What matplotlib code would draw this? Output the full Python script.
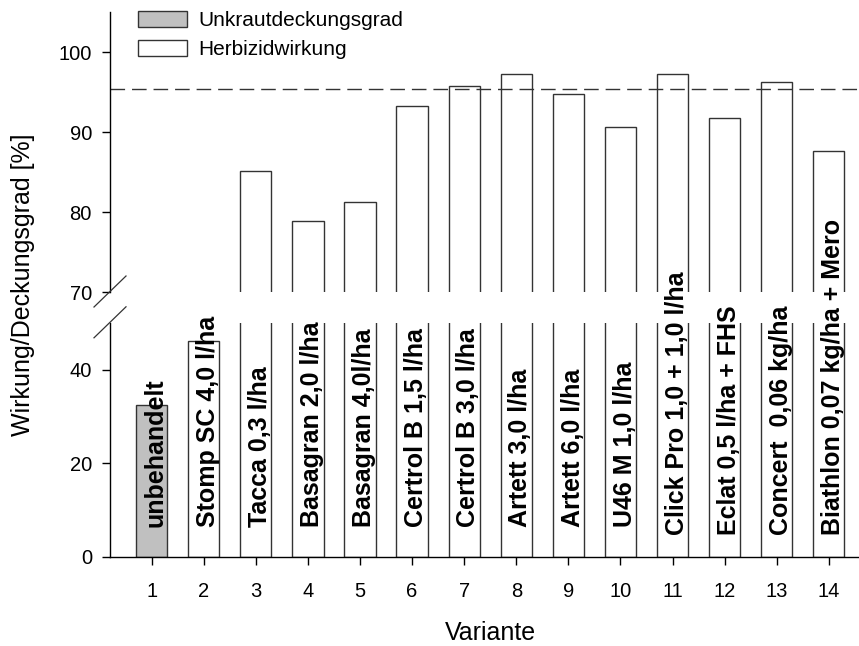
import matplotlib
matplotlib.use("Agg")
import matplotlib.pyplot as plt
from matplotlib.lines import Line2D
from matplotlib.patches import Patch

plt.rcParams['font.family'] = ['Liberation Sans', 'DejaVu Sans']

# === Data ===
variants = list(range(1, 15))
labels = ['unbehandelt', 'Stomp SC 4,0 l/ha', 'Tacca 0,3 l/ha', 'Basagran 2,0 l/ha',
          'Basagran 4,0l/ha', 'Certrol B 1,5 l/ha', 'Certrol B 3,0 l/ha', 'Artett 3,0 l/ha',
          'Artett 6,0 l/ha', 'U46 M 1,0 l/ha', 'Click Pro 1,0 + 1,0 l/ha',
          'Eclat 0,5 l/ha + FHS', 'Concert  0,06 kg/ha', 'Biathlon 0,07 kg/ha + Mero']
deckung = [32.5]                     # Unkrautdeckungsgrad, Variante 1
wirkung = [46.2, 85.1, 78.9, 81.3, 93.3, 95.8, 97.3, 94.8, 90.6, 97.3, 91.8, 96.3, 87.6]
ref_line = 95.4

W, H = 859, 646
fig = plt.figure(figsize=(W / 100, H / 100), dpi=100)

left = 110 / W
width = 1 - left
ax_lo = fig.add_axes([left, 1 - 557 / H, width, (557 - 322.7) / H])
ax_hi = fig.add_axes([left, 1 - 292 / H, width, 280 / H])

bar_kw = dict(width=0.6, edgecolor='#333333', linewidth=1.0)
for ax in (ax_lo, ax_hi):
    ax.bar(variants[:1], deckung, color='#c0c0c0', **bar_kw)
    ax.bar(variants[1:], wirkung, color='white', **bar_kw)
    ax.set_xlim(0.2, 14.58)
    ax.patch.set_visible(False)
    for s in ('top', 'right'):
        ax.spines[s].set_visible(False)
    ax.spines['left'].set_linewidth(1.0)
    ax.spines['bottom'].set_linewidth(1.0)
    ax.tick_params(labelsize=14.5, width=1.0, length=6, direction='out')

ax_lo.set_ylim(0, 50)
ax_lo.set_yticks([0, 20, 40])
ax_lo.set_xticks(variants)
ax_lo.tick_params(axis='x', pad=12)
ax_lo.tick_params(axis='y', pad=7)

ax_hi.set_ylim(70, 105)
ax_hi.set_yticks([70, 80, 90, 100])
ax_hi.spines['bottom'].set_visible(False)
ax_hi.set_xticks([])
ax_hi.tick_params(axis='y', pad=7)
ax_hi.axhline(ref_line, color='#333333', linewidth=1.0, dashes=(10.5, 5))

# Bar labels (vertical, bold), drawn across the axis break
label_y = [6.5] * 10 + [4.8] * 4
for x, txt, y in zip(variants, labels, label_y):
    fig.text(x + 0.08, y, txt, transform=ax_lo.transData, rotation=90,
             ha='center', va='bottom', fontsize=18, fontweight='bold', zorder=5)

# Axis break marks
dx, dy = 16 / W, 15.5 / H
for yc in (1 - 291.5 / H, 1 - 322.3 / H):
    fig.add_artist(Line2D([left - dx, left + dx], [yc - dy, yc + dy],
                          transform=fig.transFigure, color='#333333', linewidth=0.9))

fig.text(490 / W, 1 - 640 / H, 'Variante', ha='center', va='baseline', fontsize=18)
fig.text(23 / W, 1 - 285 / H, 'Wirkung/Deckungsgrad [%]', rotation=90,
         ha='center', va='center', fontsize=18)

handles = [Patch(facecolor='#c0c0c0', edgecolor='#333333', linewidth=1.0),
           Patch(facecolor='white', edgecolor='#333333', linewidth=1.0)]
fig.legend(handles, ['Unkrautdeckungsgrad', 'Herbizidwirkung'], loc='upper left',
           bbox_to_anchor=(138 / W, 1 - 11 / H), frameon=False, fontsize=15,
           handlelength=2.35, handleheight=0.77, handletextpad=0.55,
           labelspacing=0.5, borderpad=0, borderaxespad=0)

fig.savefig('out.png', dpi=100)
plt.close(fig)
